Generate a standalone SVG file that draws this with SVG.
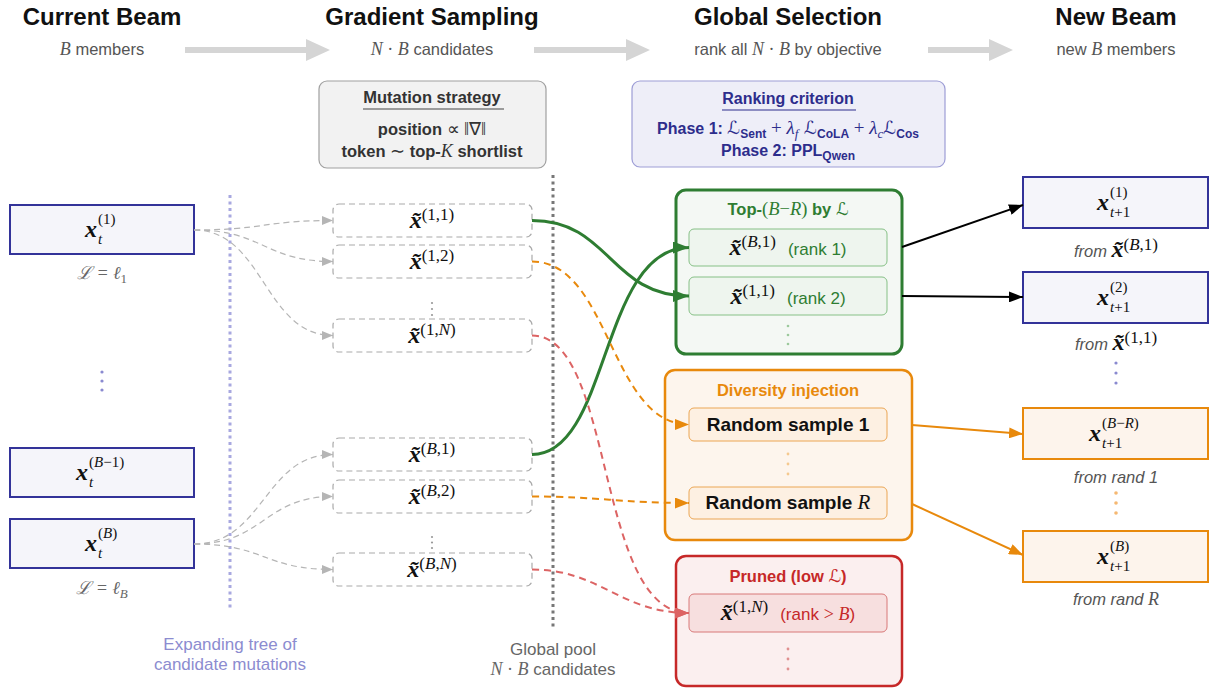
<svg xmlns="http://www.w3.org/2000/svg" width="1210" height="688" viewBox="0 0 1210 688">
<style>
text{font-family:"Liberation Sans",Arial,sans-serif}
.hd{font-size:24px;font-weight:bold;fill:#111;text-anchor:middle}
.st{font-size:16.5px;fill:#555;text-anchor:middle}
.mi{font-family:"Liberation Serif",serif;font-style:italic;font-weight:normal}
.rm{font-family:"Liberation Serif",serif;font-style:normal;font-weight:normal}
.cal{font-family:"DejaVu Serif","DejaVu Sans",serif;font-style:normal;font-weight:normal}
.bx{font-family:"Liberation Serif",serif;font-style:italic;font-weight:bold;font-size:24px;fill:#111}
.sc{font-family:"Liberation Serif",serif;font-size:17px;fill:#111}
.ss{font-family:"Liberation Serif",serif;font-size:15px;fill:#111}
.beam{fill:#f5f5fa;stroke:#333399;stroke-width:2}
.beamo{fill:#fdf4ec;stroke:#e8890c;stroke-width:2}
.cand{fill:#fff;stroke:#aaa;stroke-width:1.2;stroke-dasharray:6 4}
.lab{font-family:"Liberation Serif",serif;font-style:italic;font-size:18px;fill:#666;text-anchor:middle}
.from{font-style:italic;font-size:16.5px;fill:#555;text-anchor:middle}
.ph{font-size:16px;font-weight:bold;fill:#2d2d8c;text-anchor:middle}
.mut{font-size:16.5px;font-weight:bold;fill:#333;text-anchor:middle}
.gd{fill:none;stroke:#b5b5b5;stroke-width:1.2;stroke-dasharray:6 4}
.ctr{text-anchor:middle}
</style>
<defs>
<marker id="mg" markerUnits="userSpaceOnUse" markerWidth="11" markerHeight="9" viewBox="0 0 11 9" refX="11" refY="4.5" orient="auto"><path d="M0,0 L11,4.5 L0,9 z" fill="#b5b5b5"/></marker>
<marker id="mgr" markerUnits="userSpaceOnUse" markerWidth="16" markerHeight="12" viewBox="0 0 16 12" refX="16" refY="6" orient="auto"><path d="M0,0 L16,6 L0,12 z" fill="#2e7d32"/></marker>
<marker id="mor" markerUnits="userSpaceOnUse" markerWidth="14" markerHeight="11" viewBox="0 0 14 11" refX="14" refY="5.5" orient="auto"><path d="M0,0 L14,5.5 L0,11 z" fill="#e8890c"/></marker>
<marker id="mrd" markerUnits="userSpaceOnUse" markerWidth="14" markerHeight="11" viewBox="0 0 14 11" refX="14" refY="5.5" orient="auto"><path d="M0,0 L14,5.5 L0,11 z" fill="#dc6464"/></marker>
<marker id="mbk" markerUnits="userSpaceOnUse" markerWidth="14" markerHeight="11" viewBox="0 0 14 11" refX="14" refY="5.5" orient="auto"><path d="M0,0 L14,5.5 L0,11 z" fill="#000"/></marker>
</defs>

<g id="headers">
<text class="hd" x="102" y="25">Current Beam</text>
<text class="hd" x="432" y="25">Gradient Sampling</text>
<text class="hd" x="788" y="25">Global Selection</text>
<text class="hd" x="1116" y="25">New Beam</text>
<text class="st" x="102" y="55"><tspan class="mi" font-size="18">B</tspan> members</text>
<text class="st" x="432" y="55"><tspan class="mi" font-size="18">N</tspan><tspan class="rm" font-size="18"> · </tspan><tspan class="mi" font-size="18">B</tspan> candidates</text>
<text class="st" x="788" y="55">rank all <tspan class="mi" font-size="18">N</tspan><tspan class="rm" font-size="18"> · </tspan><tspan class="mi" font-size="18">B</tspan> by objective</text>
<text class="st" x="1116" y="55">new <tspan class="mi" font-size="18">B</tspan> members</text>
<polygon points="185,47 306,47 306,39 330,50 306,61 306,53 185,53" fill="#d5d5d5"/>
<polygon points="534,47 626,47 626,39 650,50 626,61 626,53 534,53" fill="#d5d5d5"/>
<polygon points="928,47 989,47 989,39 1013,50 989,61 989,53 928,53" fill="#d5d5d5"/>
</g>

<g id="mutation-strategy">
<rect x="319" y="81" width="227" height="87" rx="8" fill="#f2f2f2" stroke="#a0a0a0" stroke-width="1.2"/>
<text class="mut" x="432" y="103" font-size="17" fill="#444">Mutation strategy</text>
<line x1="363" y1="109" x2="504" y2="109" stroke="#444" stroke-width="1"/>
<text class="mut" x="432" y="135">position <tspan class="rm" font-size="18">∝ ‖∇‖</tspan></text>
<text class="mut" x="432" y="157">token <tspan class="rm" font-size="18">∼</tspan> top-<tspan class="mi" font-size="18">K</tspan> shortlist</text>
</g>

<g id="ranking-criterion">
<rect x="632" y="81" width="313" height="86" rx="8" fill="#eeeef8" stroke="#9d9dd6" stroke-width="1.2"/>
<text class="ph" x="788" y="104" font-size="17">Ranking criterion</text>
<line x1="722" y1="110" x2="856" y2="110" stroke="#2d2d8c" stroke-width="1"/>
<text class="ph" x="788" y="134">Phase 1: <tspan class="cal" font-size="18">ℒ</tspan><tspan dy="4" font-size="12">Sent</tspan><tspan dy="-4" class="rm" font-size="19"> + </tspan><tspan class="mi" font-size="19">λ</tspan><tspan class="mi" dy="4" font-size="13">f</tspan><tspan dy="-4" class="cal" font-size="18"> ℒ</tspan><tspan dy="4" font-size="12">CoLA</tspan><tspan dy="-4" class="rm" font-size="19"> + </tspan><tspan class="mi" font-size="19">λ</tspan><tspan class="mi" dy="4" font-size="13">c</tspan><tspan dy="-4" class="cal" font-size="18">ℒ</tspan><tspan dy="4" font-size="12">Cos</tspan></text>
<text class="ph" x="788" y="156">Phase 2: PPL<tspan dy="4" font-size="12">Qwen</tspan></text>
</g>

<g id="guides">
<line x1="230" y1="195" x2="230" y2="610" stroke="#a8a8e0" stroke-width="3" stroke-dasharray="3 3.5"/>
<line x1="553" y1="175" x2="553" y2="628" stroke="#777" stroke-width="3" stroke-dasharray="3 3.5"/>
<text x="230" y="650" class="ctr" font-size="17" fill="#8c8cd0">Expanding tree of</text>
<text x="230" y="670" class="ctr" font-size="17" fill="#8c8cd0">candidate mutations</text>
<text x="553" y="655" class="ctr" font-size="17" fill="#666">Global pool</text>
<text x="553" y="675" class="ctr" font-size="17" fill="#666"><tspan class="mi" font-size="18">N</tspan><tspan class="rm" font-size="18"> · </tspan><tspan class="mi" font-size="18">B</tspan> candidates</text>
<g fill="#8a8ad0"><circle cx="102" cy="372" r="1.6"/><circle cx="102" cy="381" r="1.6"/><circle cx="102" cy="390" r="1.6"/></g>
<g fill="#999"><circle cx="432" cy="303" r="1.1"/><circle cx="432" cy="309" r="1.1"/><circle cx="432" cy="315" r="1.1"/><circle cx="432" cy="537" r="1.1"/><circle cx="432" cy="542.5" r="1.1"/><circle cx="432" cy="548" r="1.1"/></g>
<g fill="#8a8ad0"><circle cx="1116" cy="363" r="1.6"/><circle cx="1116" cy="373" r="1.6"/><circle cx="1116" cy="383" r="1.6"/></g>
<g fill="#f5b872"><circle cx="1116" cy="493" r="1.8"/><circle cx="1116" cy="503" r="1.8"/><circle cx="1116" cy="513" r="1.8"/></g>
</g>

<g id="beam-1">
<rect class="beam" x="10" y="205" width="184" height="49"/>
<text class="bx" x="85" y="237">x</text>
<text class="ss" x="98" y="224">(1)</text>
<text class="ss mi" x="98" y="244">t</text>
<text class="lab" x="102" y="279">ℒ = ℓ<tspan dy="4" font-size="13" font-style="normal">1</tspan></text>
</g>
<g id="beam-B-1">
<rect class="beam" x="10" y="448" width="184" height="49"/>
<text class="bx" x="76" y="480">x</text>
<text class="ss" x="89" y="467">(<tspan class="mi">B</tspan>−1)</text>
<text class="ss mi" x="89" y="487">t</text>
</g>
<g id="beam-B">
<rect class="beam" x="10" y="519" width="184" height="49"/>
<text class="bx" x="85" y="551">x</text>
<text class="ss" x="98" y="538">(<tspan class="mi">B</tspan>)</text>
<text class="ss mi" x="98" y="558">t</text>
<text class="lab" x="102" y="594">ℒ = ℓ<tspan dy="4" font-size="13">B</tspan></text>
</g>

<g id="cand-1-1"><rect class="cand" x="333" y="204" width="199" height="33" rx="6"/><text class="ctr" x="432" y="228"><tspan class="bx" font-size="21">x̃</tspan><tspan class="sc" font-size="18" dy="-8">(1,1)</tspan></text></g>
<g id="cand-1-2"><rect class="cand" x="333" y="245" width="199" height="33" rx="6"/><text class="ctr" x="432" y="269"><tspan class="bx" font-size="21">x̃</tspan><tspan class="sc" font-size="18" dy="-8">(1,2)</tspan></text></g>
<g id="cand-1-N"><rect class="cand" x="333" y="319" width="199" height="33" rx="6"/><text class="ctr" x="432" y="343"><tspan class="bx" font-size="21">x̃</tspan><tspan class="sc" font-size="18" dy="-8">(1,<tspan class="mi">N</tspan>)</tspan></text></g>
<g id="cand-B-1"><rect class="cand" x="333" y="438" width="199" height="33" rx="6"/><text class="ctr" x="432" y="462"><tspan class="bx" font-size="21">x̃</tspan><tspan class="sc" font-size="18" dy="-8">(<tspan class="mi">B</tspan>,1)</tspan></text></g>
<g id="cand-B-2"><rect class="cand" x="333" y="480" width="199" height="33" rx="6"/><text class="ctr" x="432" y="504"><tspan class="bx" font-size="21">x̃</tspan><tspan class="sc" font-size="18" dy="-8">(<tspan class="mi">B</tspan>,2)</tspan></text></g>
<g id="cand-B-N"><rect class="cand" x="333" y="553" width="199" height="33" rx="6"/><text class="ctr" x="432" y="577"><tspan class="bx" font-size="21">x̃</tspan><tspan class="sc" font-size="18" dy="-8">(<tspan class="mi">B</tspan>,<tspan class="mi">N</tspan>)</tspan></text></g>

<g id="top-selection">
<rect x="676" y="190" width="226" height="164" rx="10" fill="#f4f8f4" stroke="#2e7d32" stroke-width="3"/>
<text class="ctr" x="788" y="215" font-size="16.5" font-weight="bold" fill="#2e7d32">Top-<tspan class="rm" font-size="18.5">(</tspan><tspan class="mi" font-size="18.5">B</tspan><tspan class="rm" font-size="18.5">−</tspan><tspan class="mi" font-size="18.5">R</tspan><tspan class="rm" font-size="18.5">)</tspan> by <tspan class="cal" font-size="17.5">ℒ</tspan></text>
<rect x="689" y="229" width="198" height="37" rx="5" fill="#eef5ee" stroke="#86c086" stroke-width="1"/>
<text class="ctr" x="788" y="255"><tspan class="bx" font-size="21">x̃</tspan><tspan class="sc" font-size="18" dy="-8">(<tspan class="mi">B</tspan>,1)</tspan><tspan dy="8" dx="12" font-size="17" fill="#2e7d32">(rank 1)</tspan></text>
<rect x="689" y="277" width="198" height="38" rx="5" fill="#eef5ee" stroke="#86c086" stroke-width="1"/>
<text class="ctr" x="788" y="304"><tspan class="bx" font-size="21">x̃</tspan><tspan class="sc" font-size="18" dy="-8">(1,1)</tspan><tspan dy="8" dx="12" font-size="17" fill="#2e7d32">(rank 2)</tspan></text>
<g fill="#9cc99c"><circle cx="788" cy="326" r="1.3"/><circle cx="788" cy="335" r="1.3"/><circle cx="788" cy="344" r="1.3"/></g>
</g>

<g id="diversity-injection">
<rect x="665" y="370" width="247" height="170" rx="10" fill="#fdf5ed" stroke="#e8890c" stroke-width="2.5"/>
<text class="ctr" x="788" y="396" font-size="16.5" font-weight="bold" fill="#e8890c">Diversity injection</text>
<rect x="689" y="408" width="198" height="33" rx="5" fill="#fdf0e2" stroke="#eba654" stroke-width="1"/>
<text class="ctr" x="788" y="431" font-size="19" font-weight="bold" fill="#111">Random sample 1</text>
<g fill="#f5c98f"><circle cx="788" cy="454" r="1.4"/><circle cx="788" cy="464" r="1.4"/><circle cx="788" cy="474" r="1.4"/></g>
<rect x="689" y="487" width="198" height="32" rx="5" fill="#fdf0e2" stroke="#eba654" stroke-width="1"/>
<text class="ctr" x="788" y="509" font-size="19" font-weight="bold" fill="#111">Random sample <tspan class="mi" font-size="21">R</tspan></text>
</g>

<g id="pruned">
<rect x="676" y="556" width="226" height="130" rx="10" fill="#fbefef" stroke="#c62828" stroke-width="2.5"/>
<text class="ctr" x="788" y="582" font-size="16.5" font-weight="bold" fill="#c62828">Pruned (low <tspan class="cal" font-size="17.5">ℒ</tspan>)</text>
<rect x="689" y="594" width="198" height="38" rx="5" fill="#f7dfdf" stroke="#d87878" stroke-width="1"/>
<text class="ctr" x="788" y="620"><tspan class="bx" font-size="21" fill="#444">x̃</tspan><tspan class="sc" font-size="18" dy="-8" fill="#444">(1,<tspan class="mi">N</tspan>)</tspan><tspan dy="8" dx="12" font-size="17" fill="#c62828">(rank <tspan class="rm" font-size="18">&gt;</tspan> <tspan class="mi" font-size="18">B</tspan>)</tspan></text>
<g fill="#e09090"><circle cx="788" cy="649" r="1.4"/><circle cx="788" cy="659" r="1.4"/><circle cx="788" cy="669" r="1.4"/></g>
</g>

<g id="new-1">
<rect class="beam" x="1023" y="177" width="185" height="51"/>
<text class="bx" x="1097" y="210">x</text>
<text class="ss" x="1110" y="197">(1)</text>
<text class="ss" x="1110" y="217"><tspan class="mi">t</tspan>+1</text>
<text class="from" x="1116" y="257">from <tspan class="bx" font-size="18" fill="#555" font-weight="normal">x̃</tspan><tspan class="sc" font-size="13" font-style="normal" fill="#555" dy="-7">(<tspan class="mi">B</tspan>,1)</tspan></text>
</g>
<g id="new-2">
<rect class="beam" x="1023" y="272" width="185" height="51"/>
<text class="bx" x="1097" y="305">x</text>
<text class="ss" x="1110" y="292">(2)</text>
<text class="ss" x="1110" y="312"><tspan class="mi">t</tspan>+1</text>
<text class="from" x="1116" y="350">from <tspan class="bx" font-size="18" fill="#555" font-weight="normal">x̃</tspan><tspan class="sc" font-size="13" font-style="normal" fill="#555" dy="-7">(1,1)</tspan></text>
</g>
<g id="new-B-R">
<rect class="beamo" x="1023" y="408" width="185" height="51"/>
<text class="bx" x="1089" y="441">x</text>
<text class="ss" x="1102" y="428">(<tspan class="mi">B</tspan>−<tspan class="mi">R</tspan>)</text>
<text class="ss" x="1102" y="448"><tspan class="mi">t</tspan>+1</text>
<text class="from" x="1116" y="483">from rand 1</text>
</g>
<g id="new-B">
<rect class="beamo" x="1023" y="531" width="185" height="51"/>
<text class="bx" x="1097" y="564">x</text>
<text class="ss" x="1110" y="551">(<tspan class="mi">B</tspan>)</text>
<text class="ss" x="1110" y="571"><tspan class="mi">t</tspan>+1</text>
<text class="from" x="1116" y="605">from rand <tspan class="mi" font-size="18">R</tspan></text>
</g>

<g id="connectors">
<path class="gd" d="M194,230 C264,230 264,220.5 333,220.5" marker-end="url(#mg)"/>
<path class="gd" d="M194,230 C264,230 264,261.5 333,261.5" marker-end="url(#mg)"/>
<path class="gd" d="M194,230 C264,230 264,335.5 333,335.5" marker-end="url(#mg)"/>
<path class="gd" d="M194,544 C264,544 264,454.5 333,454.5" marker-end="url(#mg)"/>
<path class="gd" d="M194,544 C264,544 264,496.5 333,496.5" marker-end="url(#mg)"/>
<path class="gd" d="M194,544 C264,544 264,569.5 333,569.5" marker-end="url(#mg)"/>
<path d="M532,220.5 C610,220.5 610,296 689,296" fill="none" stroke="#2e7d32" stroke-width="3" marker-end="url(#mgr)"/>
<path d="M532,454.5 C610,454.5 600,247.5 689,247.5" fill="none" stroke="#2e7d32" stroke-width="3" marker-end="url(#mgr)"/>
<path d="M532,261.5 C610,261.5 610,424.5 689,424.5" fill="none" stroke="#e8890c" stroke-width="2" stroke-dasharray="7 5" marker-end="url(#mor)"/>
<path d="M532,496.5 C600,496.5 620,503 689,503" fill="none" stroke="#e8890c" stroke-width="2" stroke-dasharray="7 5" marker-end="url(#mor)"/>
<path d="M532,335.5 C615,335.5 595,613 689,613" fill="none" stroke="#dc6464" stroke-width="2" stroke-dasharray="7 5" marker-end="url(#mrd)"/>
<path d="M532,569.5 C600,569.5 620,613 689,613" fill="none" stroke="#dc6464" stroke-width="2" stroke-dasharray="7 5" marker-end="url(#mrd)"/>
<path d="M902,247 L1023,205" fill="none" stroke="#000" stroke-width="2" marker-end="url(#mbk)"/>
<path d="M902,296 L1023,297" fill="none" stroke="#000" stroke-width="2" marker-end="url(#mbk)"/>
<path d="M912,425 L1023,434" fill="none" stroke="#e8890c" stroke-width="2" marker-end="url(#mor)"/>
<path d="M912,504 L1023,555" fill="none" stroke="#e8890c" stroke-width="2" marker-end="url(#mor)"/>
</g>
</svg>
